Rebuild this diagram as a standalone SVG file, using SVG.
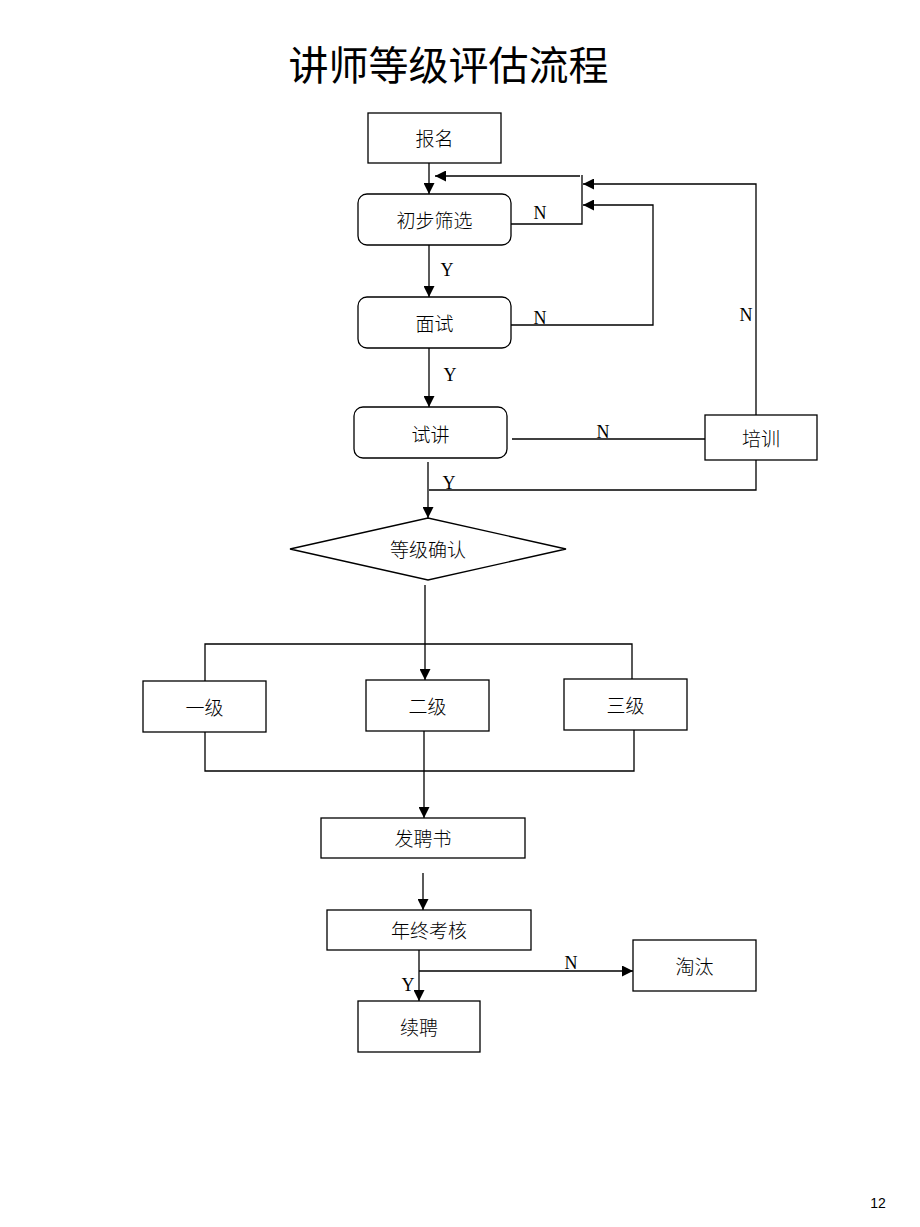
<svg xmlns="http://www.w3.org/2000/svg" width="920" height="1227" viewBox="0 0 920 1227">
<defs>
<marker id="arr" markerUnits="userSpaceOnUse" markerWidth="11" markerHeight="11" refX="10" refY="5" orient="auto" viewBox="0 0 10 10">
<path d="M0,0 L10,5 L0,10 z" fill="#000"/>
</marker>
<style>
.box{fill:#fff;stroke:#000;stroke-width:1.3}
.t{font-family:"Noto Sans CJK SC","Noto Sans CJK JP",sans-serif;font-size:19px;text-anchor:middle;fill:#000;font-weight:300}
.yn{font-family:"Liberation Serif",serif;font-size:18px;text-anchor:middle;fill:#000}
.c{fill:none;stroke:#000;stroke-width:1.3}
.ca{fill:none;stroke:#000;stroke-width:1.3;marker-end:url(#arr)}
</style>
</defs>
<rect width="920" height="1227" fill="#fff"/>
<text x="448.5" y="80" style="font-family:'Noto Sans CJK SC',sans-serif;font-size:40px;text-anchor:middle;font-weight:400">讲师等级评估流程</text>

<g id="connectors">
<path class="ca" d="M429,163 V194"/>
<path class="c" d="M511,224 H582 V175"/>
<path class="ca" d="M580,176 H435"/>
<path class="ca" d="M756,415 V184 H583"/>
<path class="ca" d="M511,325 H653 V205 H583"/>
<path class="ca" d="M429,245 V297"/>
<path class="ca" d="M429,348 V407"/>
<path class="c" d="M512,439 H705"/>
<path class="c" d="M756,460 V490 H429"/>
<path class="ca" d="M428,462 V518"/>
<path class="ca" d="M425,585 V680"/>
<path class="c" d="M205,681 V644 H632 V679"/>
<path class="c" d="M205,732 V771 H634 V730"/>
<path class="ca" d="M424,731 V818"/>
<path class="ca" d="M423,873 V910"/>
<path class="ca" d="M419,950 V1001"/>
<path class="ca" d="M419,971 H633"/>
<text class="yn" x="540" y="219">N</text>
<text class="yn" x="447" y="276">Y</text>
<text class="yn" x="540" y="324">N</text>
<text class="yn" x="746" y="321">N</text>
<text class="yn" x="450" y="381">Y</text>
<text class="yn" x="603" y="438">N</text>
<text class="yn" x="449" y="489">Y</text>
<text class="yn" x="571" y="969">N</text>
<text class="yn" x="408" y="991">Y</text>
</g>

<g id="baoming"><rect class="box" x="368" y="113" width="133" height="50"/><text class="t" x="434.5" y="146">报名</text></g>
<g id="chubu"><rect class="box" x="358" y="194" width="153" height="51" rx="9"/><text class="t" x="434.5" y="228">初步筛选</text></g>
<g id="mianshi"><rect class="box" x="358" y="297" width="153" height="51" rx="9"/><text class="t" x="434.5" y="331">面试</text></g>
<g id="shijiang"><rect class="box" x="354" y="407" width="153" height="51" rx="9"/><text class="t" x="430.5" y="442">试讲</text></g>
<g id="peixun"><rect class="box" x="705" y="415" width="112" height="45"/><text class="t" x="761" y="446">培训</text></g>
<g id="queren"><polygon class="box" points="290,549 428,518 566,549 428,580"/><text class="t" x="428" y="557">等级确认</text></g>
<g id="yiji"><rect class="box" x="143" y="681" width="123" height="51"/><text class="t" x="204.5" y="715">一级</text></g>
<g id="erji"><rect class="box" x="366" y="680" width="123" height="51"/><text class="t" x="427.5" y="714">二级</text></g>
<g id="sanji"><rect class="box" x="564" y="679" width="123" height="51"/><text class="t" x="625.5" y="713">三级</text></g>
<g id="fapin"><rect class="box" x="321" y="818" width="204" height="40"/><text class="t" x="423" y="846">发聘书</text></g>
<g id="kaohe"><rect class="box" x="327" y="910" width="204" height="40"/><text class="t" x="429" y="938">年终考核</text></g>
<g id="taotai"><rect class="box" x="633" y="940" width="123" height="51"/><text class="t" x="694.5" y="974">淘汰</text></g>
<g id="xupin"><rect class="box" x="358" y="1001" width="122" height="51"/><text class="t" x="419" y="1035">续聘</text></g>
<text x="878" y="1208" style="font-family:'Liberation Sans',sans-serif;font-size:14px;text-anchor:middle">12</text>
</svg>
